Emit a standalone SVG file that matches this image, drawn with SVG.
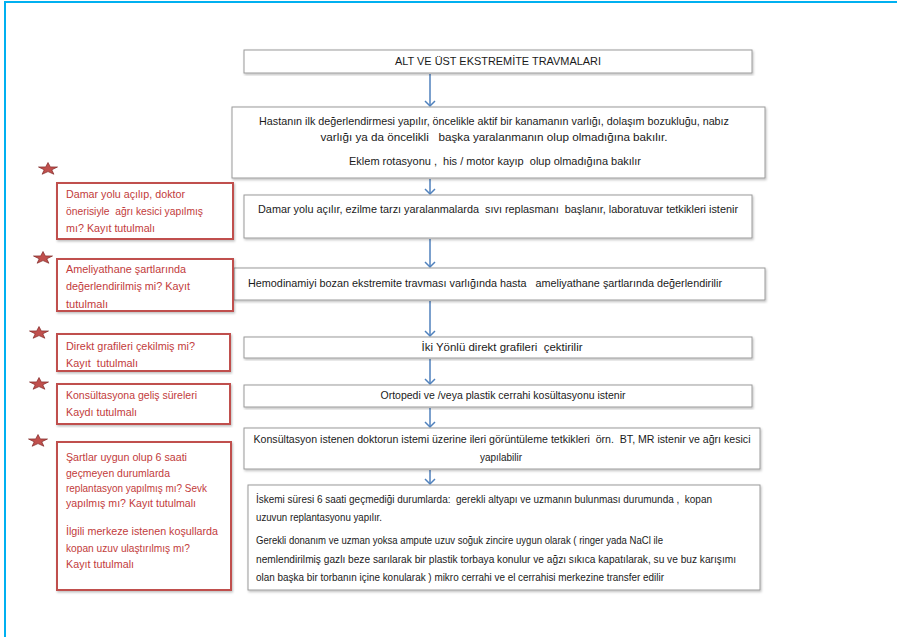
<svg xmlns="http://www.w3.org/2000/svg" width="897" height="637" viewBox="0 0 897 637">
<defs>
<style>
.bx{fill:#fff;stroke:#9a9a9a;stroke-width:1;filter:url(#sh)}
.rb{fill:#fff;stroke:#c0504d;stroke-width:2;filter:url(#sh)}
.t{font-family:"Liberation Sans",Arial,sans-serif;font-size:10.5px;fill:#1a1a1a}
.r{font-family:"Liberation Sans",Arial,sans-serif;font-size:10.5px;fill:#c23b3b}
.c{stroke:#4f81bd;stroke-width:1.5;fill:none;marker-end:url(#ah)}
.st{fill:#c0504d;stroke:#7a2220;stroke-width:0.8}
</style>
<filter id="sh" x="-5%" y="-5%" width="110%" height="115%">
<feDropShadow dx="1" dy="1.5" stdDeviation="1" flood-color="#000" flood-opacity="0.25"/>
</filter>
<marker id="ah" markerWidth="12" markerHeight="12" refX="6" refY="6" orient="auto" markerUnits="userSpaceOnUse">
<path d="M1,1 L6,6 L1,11" fill="none" stroke="#4f81bd" stroke-width="1.5"/>
</marker>
<polygon id="star" points="0,-10 2.35,-3.24 9.51,-3.09 3.8,1.24 5.88,8.09 0,4 -5.88,8.09 -3.8,1.24 -9.51,-3.09 -2.35,-3.24"/>
</defs>
<rect width="897" height="637" fill="#fff"/>
<rect x="5" y="2" width="900" height="650" fill="none" stroke="#00b0f0" stroke-width="2"/>

<g id="connectors">
<line class="c" x1="430" y1="74" x2="430" y2="106"/>
<line class="c" x1="430" y1="179" x2="430" y2="194"/>
<line class="c" x1="430" y1="239" x2="430" y2="267"/>
<line class="c" x1="430" y1="301" x2="430" y2="336"/>
<line class="c" x1="430" y1="359" x2="430" y2="384"/>
<line class="c" x1="430" y1="408" x2="430" y2="427"/>
<line class="c" x1="430" y1="470" x2="430" y2="484"/>
</g>

<g id="n1"><rect class="bx" x="244" y="50" width="508" height="23"/>
<text class="t" x="498" y="65" text-anchor="middle" textLength="206" lengthAdjust="spacingAndGlyphs">ALT VE ÜST EKSTREMİTE TRAVMALARI</text></g>

<g id="n2"><rect class="bx" x="232" y="107" width="533" height="71"/>
<text class="t" x="494" y="125" text-anchor="middle" textLength="470" lengthAdjust="spacingAndGlyphs">Hastanın ilk değerlendirmesi yapılır, öncelikle aktif bir kanamanın varlığı, dolaşım bozukluğu, nabız</text>
<text class="t" x="494" y="141" text-anchor="middle" textLength="347" lengthAdjust="spacingAndGlyphs" xml:space="preserve">varlığı ya da öncelikli   başka yaralanmanın olup olmadığına bakılır.</text>
<text class="t" x="495" y="165" text-anchor="middle" textLength="292" lengthAdjust="spacingAndGlyphs" xml:space="preserve">Eklem rotasyonu ,  his / motor kayıp  olup olmadığına bakılır</text></g>

<g id="n3"><rect class="bx" x="244" y="195" width="508" height="43"/>
<text class="t" x="498" y="213" text-anchor="middle" textLength="480" lengthAdjust="spacingAndGlyphs" xml:space="preserve">Damar yolu açılır, ezilme tarzı yaralanmalarda  sıvı replasmanı  başlanır, laboratuvar tetkikleri istenir</text></g>

<g id="n4"><rect class="bx" x="234" y="268" width="531" height="32"/>
<text class="t" x="248" y="287" textLength="474" lengthAdjust="spacingAndGlyphs" xml:space="preserve">Hemodinamiyi bozan ekstremite travması varlığında hasta   ameliyathane şartlarında değerlendirilir</text></g>

<g id="n5"><rect class="bx" x="244" y="337" width="508" height="21"/>
<text class="t" x="502" y="351" text-anchor="middle" textLength="161" lengthAdjust="spacingAndGlyphs" xml:space="preserve">İki Yönlü direkt grafileri  çektirilir</text></g>

<g id="n6"><rect class="bx" x="244" y="385" width="508" height="22"/>
<text class="t" x="503" y="399" text-anchor="middle" textLength="245" lengthAdjust="spacingAndGlyphs">Ortopedi ve /veya plastik cerrahi kosültasyonu istenir</text></g>

<g id="n7"><rect class="bx" x="244" y="428" width="516" height="41"/>
<text class="t" x="502" y="443" text-anchor="middle" textLength="497" lengthAdjust="spacingAndGlyphs" xml:space="preserve">Konsültasyon istenen doktorun istemi üzerine ileri görüntüleme tetkikleri  örn.  BT, MR istenir ve ağrı kesici</text>
<text class="t" x="501" y="461" text-anchor="middle" textLength="42" lengthAdjust="spacingAndGlyphs">yapılabilir</text></g>

<g id="n8"><rect class="bx" x="248" y="485" width="512" height="105"/>
<text class="t" x="256" y="503" textLength="456" lengthAdjust="spacingAndGlyphs" xml:space="preserve">İskemi süresi 6 saati geçmediği durumlarda:  gerekli altyapı ve uzmanın bulunması durumunda ,  kopan</text>
<text class="t" x="256" y="521" textLength="126" lengthAdjust="spacingAndGlyphs">uzuvun replantasyonu yapılır.</text>
<text class="t" x="256" y="544" textLength="407" lengthAdjust="spacingAndGlyphs">Gerekli donanım ve uzman yoksa ampute uzuv soğuk zincire uygun olarak ( ringer yada NaCl ile</text>
<text class="t" x="256" y="563" textLength="480" lengthAdjust="spacingAndGlyphs">nemlendirilmiş gazlı beze sarılarak bir plastik torbaya konulur ve ağzı sıkıca kapatılarak, su ve buz karışımı</text>
<text class="t" x="256" y="581" textLength="408" lengthAdjust="spacingAndGlyphs">olan başka bir torbanın içine konularak ) mikro cerrahi ve el cerrahisi merkezine transfer edilir</text></g>

<g id="r1"><use href="#star" class="st" transform="translate(48,169) scale(1,0.65)"/>
<rect class="rb" x="57" y="183" width="176" height="56"/>
<text class="r" x="66" y="198" textLength="119" lengthAdjust="spacingAndGlyphs">Damar yolu açılıp, doktor</text>
<text class="r" x="66" y="215" textLength="137" lengthAdjust="spacingAndGlyphs" xml:space="preserve">önerisiyle  ağrı kesici yapılmış</text>
<text class="r" x="66" y="232" textLength="89" lengthAdjust="spacingAndGlyphs">mı? Kayıt tutulmalı</text></g>

<g id="r2"><use href="#star" class="st" transform="translate(43,258) scale(1,0.65)"/>
<rect class="rb" x="57" y="259" width="176" height="52"/>
<text class="r" x="66" y="273" textLength="120" lengthAdjust="spacingAndGlyphs">Ameliyathane şartlarında</text>
<text class="r" x="66" y="290" textLength="124" lengthAdjust="spacingAndGlyphs">değerlendirilmiş mi? Kayıt</text>
<text class="r" x="66" y="308" textLength="42" lengthAdjust="spacingAndGlyphs">tutulmalı</text></g>

<g id="r3"><use href="#star" class="st" transform="translate(39,333) scale(1,0.65)"/>
<rect class="rb" x="57" y="334" width="173" height="37"/>
<text class="r" x="66" y="350" textLength="129" lengthAdjust="spacingAndGlyphs">Direkt grafileri çekilmiş mi?</text>
<text class="r" x="66" y="367" textLength="72" lengthAdjust="spacingAndGlyphs" xml:space="preserve">Kayıt  tutulmalı</text></g>

<g id="r4"><use href="#star" class="st" transform="translate(39,384) scale(1,0.65)"/>
<rect class="rb" x="57" y="384" width="173" height="40"/>
<text class="r" x="66" y="399" textLength="131" lengthAdjust="spacingAndGlyphs">Konsültasyona geliş süreleri</text>
<text class="r" x="66" y="416" textLength="71" lengthAdjust="spacingAndGlyphs">Kaydı tutulmalı</text></g>

<g id="r5"><use href="#star" class="st" transform="translate(38,441) scale(1,0.65)"/>
<rect class="rb" x="57" y="442" width="174" height="148"/>
<text class="r" x="66" y="461" textLength="121" lengthAdjust="spacingAndGlyphs">Şartlar uygun olup 6 saati</text>
<text class="r" x="66" y="477" textLength="104" lengthAdjust="spacingAndGlyphs">geçmeyen durumlarda</text>
<text class="r" x="66" y="492" textLength="141" lengthAdjust="spacingAndGlyphs">replantasyon yapılmış mı? Sevk</text>
<text class="r" x="66" y="507" textLength="130" lengthAdjust="spacingAndGlyphs">yapılmış mı? Kayıt tutulmalı</text>
<text class="r" x="66" y="535" textLength="152" lengthAdjust="spacingAndGlyphs">İlgili merkeze istenen koşullarda</text>
<text class="r" x="66" y="552" textLength="124" lengthAdjust="spacingAndGlyphs">kopan uzuv ulaştırılmış mı?</text>
<text class="r" x="66" y="568" textLength="68" lengthAdjust="spacingAndGlyphs">Kayıt tutulmalı</text></g>
</svg>
